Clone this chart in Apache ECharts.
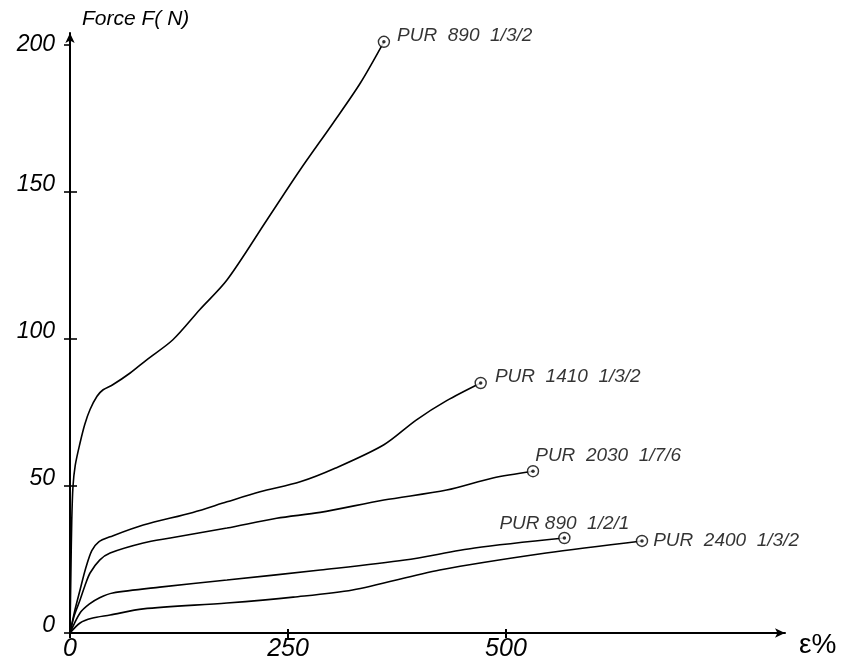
<!DOCTYPE html>
<html>
<head>
<meta charset="utf-8">
<title>Force vs elongation, PUR samples</title>
<script src="https://cdn.jsdelivr.net/npm/echarts@6/dist/echarts.min.js"></script>
<style>
  html, body { margin: 0; padding: 0; background: #fff; }
  #chart { width: 850px; height: 662px; }
</style>
</head>
<body>
<div id="chart"></div>
<script>
// Tensile curves: elongation ε (%) against force F (N)
const pur890_132 = [[0,0],[1,20],[2,38],[3.4,49.7],[6,57],[11.5,64.6],[17,71],[23,76],[31,80.5],[38,82.7],[49,84.4],[69,88.4],[88,92.9],[118,99.7],[149,110],[180,120],[226,140.5],[264,157.5],[302,173.5],[333,187],[360,201]];
const pur1410_132 = [[0,0],[5,7],[11.5,14.6],[18,22],[25,28],[33,31],[46,32.7],[84,36.7],[141,41],[180,44.6],[218,48],[264,51.4],[304,56],[360,64],[397,72.4],[432,79],[471,85]];
const pur2030_176 = [[0,0],[5,6],[11.5,11.2],[17,16],[23,20.4],[34,24.8],[46,27.2],[84,30.6],[115,32.3],[180,35.7],[237,39],[287,41],[360,45.2],[432,48.6],[485,52.7],[531,55]];
const pur890_121 = [[0,0],[11.5,6.8],[22,9.8],[34,12],[49,13.6],[103,15.6],[180,18],[287,21.4],[384,24.8],[464,28.9],[567,32.3]];
const pur2400_132 = [[0,0],[11.5,3.4],[25,5],[46,6.1],[84,8.2],[180,10.2],[256,12.2],[324,14.6],[424,21.4],[546,27.2],[656,31.3]];

const curveNames = ['PUR  890  1/3/2', 'PUR  1410  1/3/2', 'PUR  2030  1/7/6', 'PUR 890  1/2/1', 'PUR  2400  1/3/2'];
const curveData = [pur890_132, pur1410_132, pur2030_176, pur890_121, pur2400_132];

const xTicks = [0, 250, 500];
const yTicks = [0, 50, 100, 150, 200];

const ink = '#000';
const letterFont = '"Liberation Sans", "DejaVu Sans", sans-serif';

// where each curve's name sits next to its end point
const labelPlacement = [
  { position: 'right', offset: [2, -6] },
  { position: 'right', offset: [3, -6] },
  { position: 'right', offset: [-9, -16] },
  { position: 'top', offset: [0, 6] },
  { position: 'right', offset: [0, 0] }
];

const lineSeries = curveData.map((d, i) => ({
  type: 'line',
  name: curveNames[i],
  data: d,
  smooth: 0.3,
  showSymbol: false,
  lineStyle: { color: ink, width: 1.6 },
  silent: true,
  z: 3
}));

const endPoints = curveData.map((d, i) => ({
  name: curveNames[i],
  value: d[d.length - 1],
  label: Object.assign({
    show: true,
    formatter: '{b}',
    fontFamily: letterFont,
    fontStyle: 'italic',
    fontSize: 19,
    color: ink
  }, labelPlacement[i])
}));

const tickFont = { fontFamily: letterFont, fontStyle: 'italic', fontSize: 23, color: ink };

const option = {
  animation: false,
  backgroundColor: '#fff',
  grid: { left: 70, right: 65, top: 33, bottom: 29, containLabel: false },
  xAxis: [{
    type: 'value',
    min: 0,
    max: 820,
    interval: 250,
    name: 'ε%',
    nameLocation: 'end',
    nameGap: 14,
    nameTextStyle: { fontFamily: letterFont, fontSize: 28, color: ink, verticalAlign: 'top', padding: [-2, 0, 0, 0] },
    axisLine: { show: true, symbol: ['none', 'arrow'], symbolSize: [7, 10], lineStyle: { color: ink, width: 2 } },
    axisTick: { show: true, length: 5, inside: false, customValues: xTicks, lineStyle: { color: ink, width: 2 } },
    axisLabel: {
      show: true, margin: 4, fontFamily: letterFont, fontStyle: 'italic', fontSize: 25, color: ink,
      customValues: xTicks
    },
    splitLine: { show: false }
  }, {
    type: 'value',
    min: 0,
    max: 820,
    interval: 250,
    position: 'bottom',
    axisLine: { show: false },
    axisTick: { show: true, length: 4, inside: true, customValues: [250, 500], lineStyle: { color: ink, width: 2 } },
    axisLabel: { show: false },
    splitLine: { show: false }
  }],
  yAxis: [{
    type: 'value',
    min: 0,
    max: 204,
    interval: 50,
    name: 'Force F( N)',
    nameLocation: 'end',
    nameGap: 3,
    nameTextStyle: { fontFamily: letterFont, fontStyle: 'italic', fontSize: 21, color: ink, align: 'left', padding: [0, 0, 0, 12] },
    axisLine: { show: true, symbol: ['none', 'arrow'], symbolSize: [7, 10], lineStyle: { color: ink, width: 2 } },
    axisTick: { show: true, length: 6, inside: false, customValues: yTicks, lineStyle: { color: ink, width: 1.6 } },
    axisLabel: {
      show: true, margin: 15, color: ink,
      verticalAlign: 'middle', customValues: yTicks,
      // labels sit a little above their ticks, except the top one beside the arrow
      formatter: v => (v === 200 ? '{top|' + v + '}' : '{std|' + v + '}'),
      rich: {
        std: Object.assign({ padding: [0, 0, 14, 0] }, tickFont),
        top: Object.assign({ padding: [0, 0, 0, 0] }, tickFont)
      }
    },
    splitLine: { show: false }
  }, {
    type: 'value',
    min: 0,
    max: 204,
    interval: 50,
    position: 'left',
    axisLine: { show: false },
    axisTick: { show: true, length: 7, inside: true, customValues: [50, 100, 150], lineStyle: { color: ink, width: 1.6 } },
    axisLabel: { show: false },
    splitLine: { show: false }
  }],
  series: lineSeries.concat([{
    type: 'scatter',
    data: endPoints,
    symbol: 'circle',
    symbolSize: 11,
    itemStyle: { color: '#fff', borderColor: ink, borderWidth: 1.4 },
    silent: true,
    z: 5
  }, {
    type: 'scatter',
    data: curveData.map(d => d[d.length - 1]),
    symbol: 'circle',
    symbolSize: 3.5,
    itemStyle: { color: ink },
    silent: true,
    z: 6
  }])
};

const chart = echarts.init(document.getElementById('chart'), null, { renderer: 'canvas' });
chart.setOption(option);
</script>
</body>
</html>
